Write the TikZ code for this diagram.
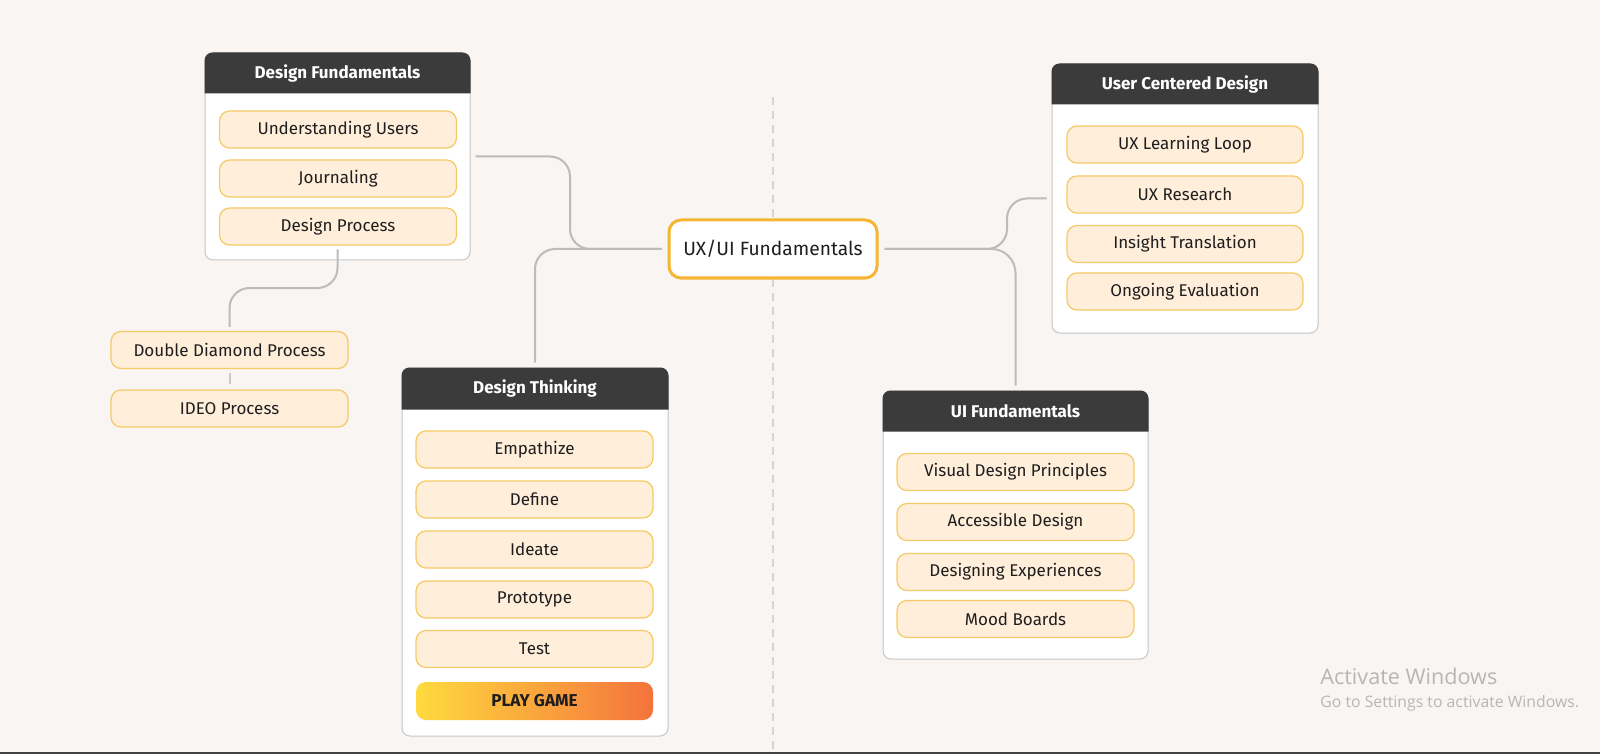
\documentclass[tikz,border=0pt]{standalone}
\usepackage{fontspec}
\setmainfont{Fira Sans}
\newfontfamily\winfont{Open Sans}
\usetikzlibrary{calc}
\definecolor{bg}{HTML}{F8F5F2}
\definecolor{hdr}{HTML}{3B3B3B}
\definecolor{itemfill}{HTML}{FFEEDA}
\definecolor{itemdraw}{HTML}{F6C964}
\definecolor{boxdraw}{HTML}{C6C6C6}
\definecolor{conncol}{HTML}{BCBCBC}
\definecolor{ctrdraw}{HTML}{F6B532}
\definecolor{txt}{HTML}{1E1E1E}
\definecolor{gylw}{HTML}{FFDA3E}
\definecolor{gorg}{HTML}{F4733C}
\definecolor{wintxt}{HTML}{B8B6B4}
\begin{document}
\begin{tikzpicture}[x=0.5pt,y=-0.5pt,
  item/.style={draw=itemdraw, line width=0.6pt, fill=itemfill, rounded corners=5pt,
    minimum width=118.5pt, minimum height=18.5pt, inner sep=0pt,
    font=\fontsize{8.5}{10}\selectfont, text=txt},
  container/.style={draw=boxdraw, line width=0.5pt, fill=white, rounded corners=4pt, inner sep=0pt},
  hdrtitle/.style={font=\bfseries\fontsize{8.5}{10}\selectfont, text=white, inner sep=0pt},
  conn/.style={draw=conncol, line width=1pt, rounded corners=10pt},
  centerbox/.style={draw=ctrdraw, line width=1.5pt, fill=white, rounded corners=6pt,
    minimum width=104pt, minimum height=29pt, inner sep=0pt,
    font=\fontsize{9.6}{11}\selectfont, text=txt},
  playbtn/.style={left color=gylw, right color=gorg, rounded corners=5pt,
    minimum width=118.5pt, minimum height=19pt, inner sep=0pt,
    font=\bfseries\fontsize{8.6}{10}\selectfont, text=txt},
  sepline/.style={draw=black!17, line width=0.6pt, dash pattern=on 4pt off 3pt}
]
% background
\fill[bg] (0,0) rectangle (1600,754);
\useasboundingbox (0,0) rectangle (1600,754);
\fill[black!75] (0,752) rectangle (1600,754);

% dashed separator
\coordinate (dtop) at (773,97);
\coordinate (dbot) at (773,752);
\draw[sepline] (dtop) -- (dbot);

% containers
\node[container, minimum width=132.5pt, minimum height=103.5pt] (df) at (337.5,156.5) {};
\fill[hdr] (df.north west) ++(0,41) [rounded corners=4pt] -- (df.north west) -- (df.north east) [sharp corners] -- ++(0,41) -- cycle;
\node[hdrtitle] (dft) at ($(df.north)+(0,20.5)$) {Design Fundamentals};

\node[container, minimum width=133pt, minimum height=184pt] (dt) at (535,552) {};
\fill[hdr] (dt.north west) ++(0,42) [rounded corners=4pt] -- (dt.north west) -- (dt.north east) [sharp corners] -- ++(0,42) -- cycle;
\node[hdrtitle] (dtt) at ($(dt.north)+(0,21)$) {Design Thinking};

\node[container, minimum width=133pt, minimum height=134.5pt] (ucd) at (1185,198.5) {};
\fill[hdr] (ucd.north west) ++(0,41) [rounded corners=4pt] -- (ucd.north west) -- (ucd.north east) [sharp corners] -- ++(0,41) -- cycle;
\node[hdrtitle] (ucdt) at ($(ucd.north)+(0,20.5)$) {User Centered Design};

\node[container, minimum width=132.5pt, minimum height=134pt] (uif) at (1015.5,525) {};
\fill[hdr] (uif.north west) ++(0,41) [rounded corners=4pt] -- (uif.north west) -- (uif.north east) [sharp corners] -- ++(0,41) -- cycle;
\node[hdrtitle] (uift) at ($(uif.north)+(0,20.5)$) {UI Fundamentals};

% center
\node[centerbox] (ux) at (773,249) {UX/UI Fundamentals};

% connectors
\draw[conn] ($(df.east)+(5,0)$) -- (570,156.5) -- (570,249) -- ($(ux.west)+(-6,0)$);
\draw[conn] ($(dt.north)+(0,-5)$) -- (535,249) -- ($(ux.west)+(-6,0)$);
\draw[conn] ($(ux.east)+(6,0)$) -- (1007,249) -- (1007,198.5) -- ($(ucd.west)+(-5,0)$);
\draw[conn, rounded corners=12pt] ($(ux.east)+(6,0)$) -- (1015.5,249) -- ($(uif.north)+(0,-5)$);

% Design Fundamentals items
\node[item] (du) at (338,129.5) {Understanding Users};
\node[item] (dj) at (338,178.5) {Journaling};
\node[item] (dp) at (338,226.5) {Design Process};

% sub branch
\node[item] (dd) at (229.5,350) {Double Diamond Process};
\node[item] (ideo) at (229.5,408.5) {IDEO Process};
\draw[conn] ($(df.south)+(0,-11)$) -- (337.5,288) -- (229.5,288) -- ($(dd.north)+(0,-4)$);
\draw[conn, draw=conncol!80] ($(dd.south)+(0,4)$) -- ($(ideo.north)+(0,-5)$);

% Design Thinking items
\node[item] (emp) at (534.5,449.5) {Empathize};
\node[item] (def) at (534.5,499.5) {Define};
\node[item] (ide) at (534.5,549.5) {Ideate};
\node[item] (pro) at (534.5,599.5) {Prototype};
\node[item] (tst) at (534.5,649) {Test};
\node[playbtn] (play) at (534.5,701) {PLAY GAME};

% User Centered Design items
\node[item, minimum width=118pt] (ull) at (1185,144.5) {UX Learning Loop};
\node[item, minimum width=118pt] (uxr) at (1185,194.5) {UX Research};
\node[item, minimum width=118pt] (ist) at (1185,244) {Insight Translation};
\node[item, minimum width=118pt] (oge) at (1185,291.5) {Ongoing Evaluation};

% UI Fundamentals items
\node[item] (vdp) at (1015.5,472) {Visual Design Principles};
\node[item] (acc) at (1015.5,522) {Accessible Design};
\node[item] (dex) at (1015.5,572) {Designing Experiences};
\node[item] (mbd) at (1015.5,619) {Mood Boards};

% watermark
\node[anchor=base west, inner sep=0pt, text=wintxt, font=\winfont\fontsize{10.8}{12}\selectfont] (aw1) at (1320,684) {Activate Windows};
\node[anchor=base west, inner sep=0pt, text=wintxt, font=\winfont\fontsize{7.9}{9}\selectfont] (aw2) at (1320,707) {Go to Settings to activate Windows.};
\end{tikzpicture}
\end{document}
